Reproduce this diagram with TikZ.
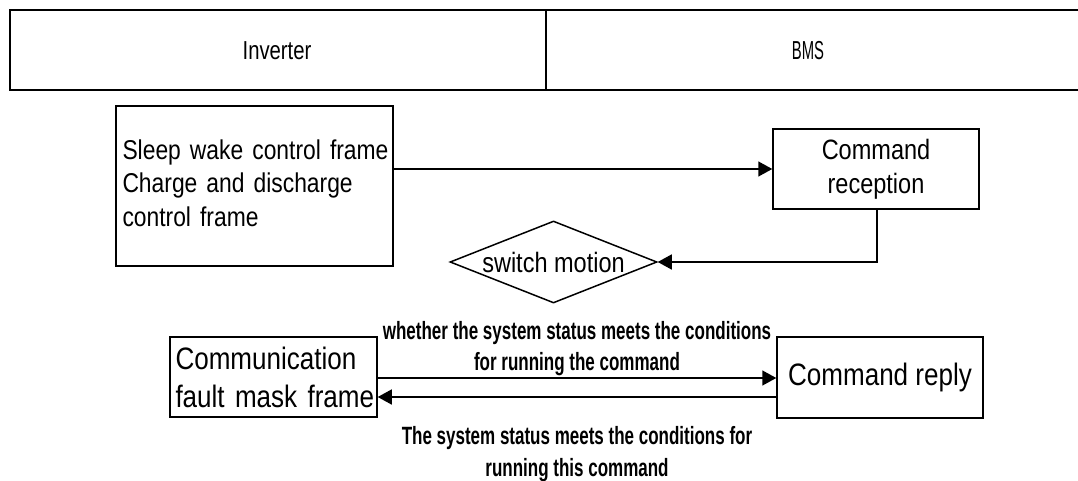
\documentclass[tikz,border=0pt]{standalone}
\usepackage{fontspec}
\setmainfont{Liberation Sans}
\newfontfamily\bodyfont[FakeStretch=0.84]{Liberation Sans}
\newfontfamily\headfont[FakeStretch=0.78]{Liberation Sans}
\newfontfamily\bmsfont[FakeStretch=0.57]{Liberation Sans}
\newfontfamily\labelfont[FakeStretch=0.68]{Liberation Sans}
\usetikzlibrary{shapes.geometric,arrows.meta}
\tikzset{
  box/.style={draw, line width=1.5pt, inner sep=0pt},
  conn/.style={line width=1.5pt, -{Triangle[length=14pt,width=15pt]}},
  lbl/.style={inner sep=0pt, anchor=base, font=\labelfont\bfseries\fontsize{25}{30}\selectfont},
}
\begin{document}
\begin{tikzpicture}[x=1pt,y=-1pt]
\useasboundingbox (0,0) rectangle (1078,481);
% header
\draw[line width=1.8pt] (10,10) rectangle (1090,90);
\draw[line width=1.5pt] (546,10) -- (546,90);
\node[inner sep=0pt, font=\headfont\fontsize{26}{30}\selectfont] (inv) at (277,51) {Inverter};
\node[inner sep=0pt, font=\bmsfont\fontsize{26}{30}\selectfont] (bms) at (808,51) {BMS};
% boxes
\node[box, minimum width=277pt, minimum height=160pt, text width=264pt, align=left,
      font=\bodyfont\fontsize{27.2}{33.7}\selectfont] (sleep) at (254.5,186)
  {\mbox{Sleep wake control frame}\\Charge and discharge\\control frame\rule[-6pt]{0pt}{6pt}};
\node[box, minimum width=206pt, minimum height=80pt, align=center,
      font=\bodyfont\fontsize{28}{34}\selectfont] (rec) at (876,169) {Command\\reception};
\node[draw, line width=1.5pt, diamond, aspect=2.5, inner sep=0pt, minimum width=207pt, minimum height=82pt,
      font=\bodyfont\fontsize{28}{30}\selectfont] (sw) at (553.5,262) {switch motion};
\node[box, minimum width=207pt, minimum height=80pt, text width=196pt, align=left,
      font=\bodyfont\fontsize{31}{38}\selectfont] (comm) at (273.5,377)
  {\mbox{Communication}\\\mbox{fault mask frame}};
\node[box, minimum width=206pt, minimum height=81pt,
      font=\bodyfont\fontsize{31}{36}\selectfont] (reply) at (880,377.5) {Command reply};
% connectors
\coordinate (bend) at (877,262);
\draw[conn] (sleep.east |- rec.west) -- (rec.west);
\draw[conn] (rec.south -| bend) -- (bend) -- (sw.east);
\draw[conn] (comm.east |- 0,378) -- (reply.west |- 0,378);
\draw[conn] (reply.west |- 0,397) -- (comm.east |- 0,397);
% labels
\node[lbl] (l1) at (577,339) {whether the system status meets the conditions};
\node[lbl] (l2) at (577,370) {for running the command};
\node[lbl] (l3) at (577,444) {The system status meets the conditions for};
\node[lbl] (l4) at (577,476) {running this command};
\end{tikzpicture}
\end{document}
